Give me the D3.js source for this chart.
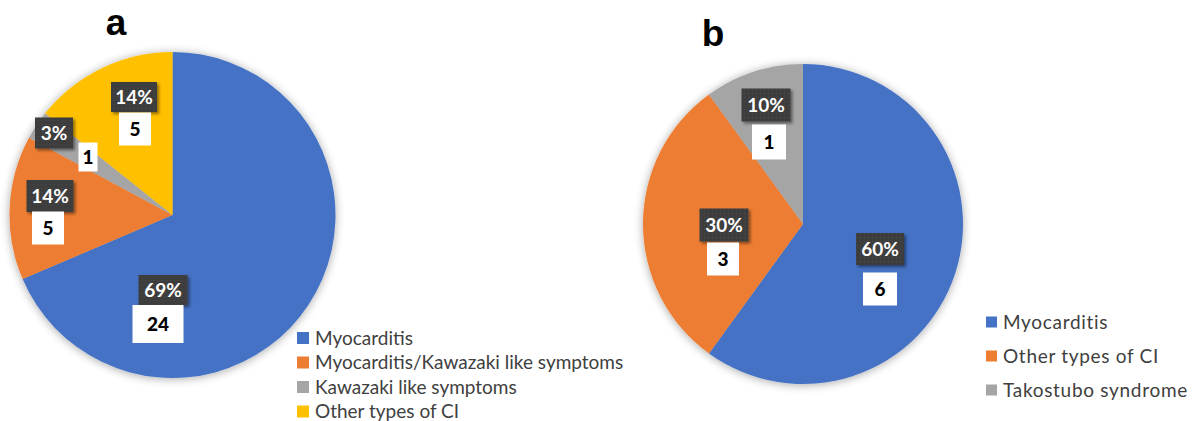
<!DOCTYPE html>
<html>
<head>
<meta charset="utf-8">
<script src="https://cdn.jsdelivr.net/npm/d3@7"></script>
<style>
  html, body { margin: 0; padding: 0; background: #fff; }
  svg { display: block; }
</style>
</head>
<body>
<svg id="chart" width="1194" height="421"></svg>
<script>
// ---- Data ----
const categoriesA = ["Myocarditis", "Myocarditis/Kawazaki like symptoms", "Kawazaki like symptoms", "Other types of CI"];
const valuesA = [24, 5, 1, 5];
const percentLabelsA = ["69%", "14%", "3%", "14%"];

const categoriesB = ["Myocarditis", "Other types of CI", "Takostubo syndrome"];
const valuesB = [6, 3, 1];
const percentLabelsB = ["60%", "30%", "10%"];

const colorsA = ["#4472C4", "#ED7D31", "#A5A5A5", "#FFC000"];
const colorsB = ["#4472C4", "#ED7D31", "#A5A5A5"];

// ---- Layout (label positions relative to pie centre, box sizes) ----
const layoutA = {
  cx: 172.5, cy: 215, r: 163, title: "a", titleX: 116, titleY: 35,
  pctBox: [[-9.5, 75, 49, 30], [-122.5, -19, 47, 32], [-118.5, -82, 38, 31], [-38.5, -118, 46, 30]],
  numBox: [[-14.5, 109, 51, 38], [-124.5, 13, 32, 33], [-84.5, -58, 19, 29], [-37.5, -86, 32, 33]],
  legend: { x: 297, y: 338, dy: 24.5, sq: 12, font: 19, ls: 0 }
};
const layoutB = {
  cx: 803, cy: 224, r: 160, title: "b", titleX: 713, titleY: 46,
  pctBox: [[77, 25, 48, 32], [-79, 1, 49, 33], [-37, -119, 49, 33]],
  numBox: [[77, 65, 34, 33], [-80, 35, 32, 33], [-34, -82, 34, 35]],
  legend: { x: 986, y: 322, dy: 34, sq: 11, font: 19, ls: 0.7 }
};

const svg = d3.select("#chart");
const defs = svg.append("defs");
const sh = defs.append("filter").attr("id", "pieShadow").attr("x", "-20%").attr("y", "-20%").attr("width", "140%").attr("height", "140%");
sh.append("feGaussianBlur").attr("in", "SourceAlpha").attr("stdDeviation", 5).attr("result", "b");
sh.append("feOffset").attr("in", "b").attr("dx", 0).attr("dy", 1).attr("result", "o");
sh.append("feComponentTransfer").attr("in", "o").attr("result", "o2")
  .append("feFuncA").attr("type", "linear").attr("slope", 0.35);
const m1 = sh.append("feMerge");
m1.append("feMergeNode").attr("in", "o2");
m1.append("feMergeNode").attr("in", "SourceGraphic");

const bs = defs.append("filter").attr("id", "boxShadow").attr("x", "-30%").attr("y", "-30%").attr("width", "160%").attr("height", "160%");
bs.append("feGaussianBlur").attr("in", "SourceAlpha").attr("stdDeviation", 1.5).attr("result", "b");
bs.append("feOffset").attr("in", "b").attr("dx", 2).attr("dy", 2).attr("result", "o");
bs.append("feComponentTransfer").attr("in", "o").attr("result", "o2")
  .append("feFuncA").attr("type", "linear").attr("slope", 0.45);
const m2 = bs.append("feMerge");
m2.append("feMergeNode").attr("in", "o2");
m2.append("feMergeNode").attr("in", "SourceGraphic");

// dotted texture for dark label boxes
const pat = defs.append("pattern").attr("id", "dots").attr("width", 4).attr("height", 4).attr("patternUnits", "userSpaceOnUse");
pat.append("rect").attr("width", 4).attr("height", 4).attr("fill", "#3d3d3d");
pat.append("rect").attr("x", 1).attr("y", 1).attr("width", 1).attr("height", 1).attr("fill", "#4d4d4d");

function drawPie(cats, vals, pcts, colors, L) {
  const g = svg.append("g");
  g.append("text").attr("x", L.titleX).attr("y", L.titleY)
    .attr("text-anchor", "middle")
    .style("font-family", "'Liberation Sans', Arial, sans-serif")
    .style("font-weight", "bold").style("font-size", "37px").attr("fill", "#000")
    .text(L.title);

  const pie = d3.pie().sort(null).value(d => d);
  const arcs = pie(vals);
  const arc = d3.arc().innerRadius(0).outerRadius(L.r);
  const pg = g.append("g").attr("transform", `translate(${L.cx},${L.cy})`).attr("filter", "url(#pieShadow)");
  pg.selectAll("path").data(arcs).join("path")
    .attr("d", arc).attr("fill", (d, i) => colors[i]);

  const lg = g.append("g").attr("transform", `translate(${L.cx},${L.cy})`);
  arcs.forEach((d, i) => {
    const p = L.pctBox[i], n = L.numBox[i];
    lg.append("rect").attr("x", p[0] - p[2] / 2).attr("y", p[1] - p[3] / 2)
      .attr("width", p[2]).attr("height", p[3]).attr("fill", "url(#dots)")
      .attr("filter", "url(#boxShadow)");
    lg.append("text").attr("x", p[0]).attr("y", p[1]).attr("dy", "0.36em")
      .attr("text-anchor", "middle")
      .style("font-family", "Lato, 'Open Sans', sans-serif").style("font-weight", "bold")
      .style("font-size", "19px").attr("fill", "#fff").text(pcts[i]);
    lg.append("rect").attr("x", n[0] - n[2] / 2).attr("y", n[1] - n[3] / 2)
      .attr("width", n[2]).attr("height", n[3]).attr("fill", "#fff");
    lg.append("text").attr("x", n[0]).attr("y", n[1]).attr("dy", "0.36em")
      .attr("text-anchor", "middle")
      .style("font-family", "Lato, 'Open Sans', sans-serif").style("font-weight", "900")
      .style("font-size", "19px").attr("fill", "#000").text(d.value);
  });

  const leg = g.append("g");
  cats.forEach((c, i) => {
    const y = L.legend.y + i * L.legend.dy;
    leg.append("rect").attr("x", L.legend.x).attr("y", y - L.legend.sq / 2)
      .attr("width", L.legend.sq).attr("height", L.legend.sq).attr("fill", colors[i]);
    leg.append("text").attr("x", L.legend.x + L.legend.sq + 6).attr("y", y).attr("dy", "0.35em")
      .style("font-family", "Lato, 'Open Sans', sans-serif")
      .style("font-size", L.legend.font + "px").style("letter-spacing", L.legend.ls + "px")
      .attr("fill", "#404040").text(c);
  });
}

drawPie(categoriesA, valuesA, percentLabelsA, colorsA, layoutA);
drawPie(categoriesB, valuesB, percentLabelsB, colorsB, layoutB);
</script>
</body>
</html>
